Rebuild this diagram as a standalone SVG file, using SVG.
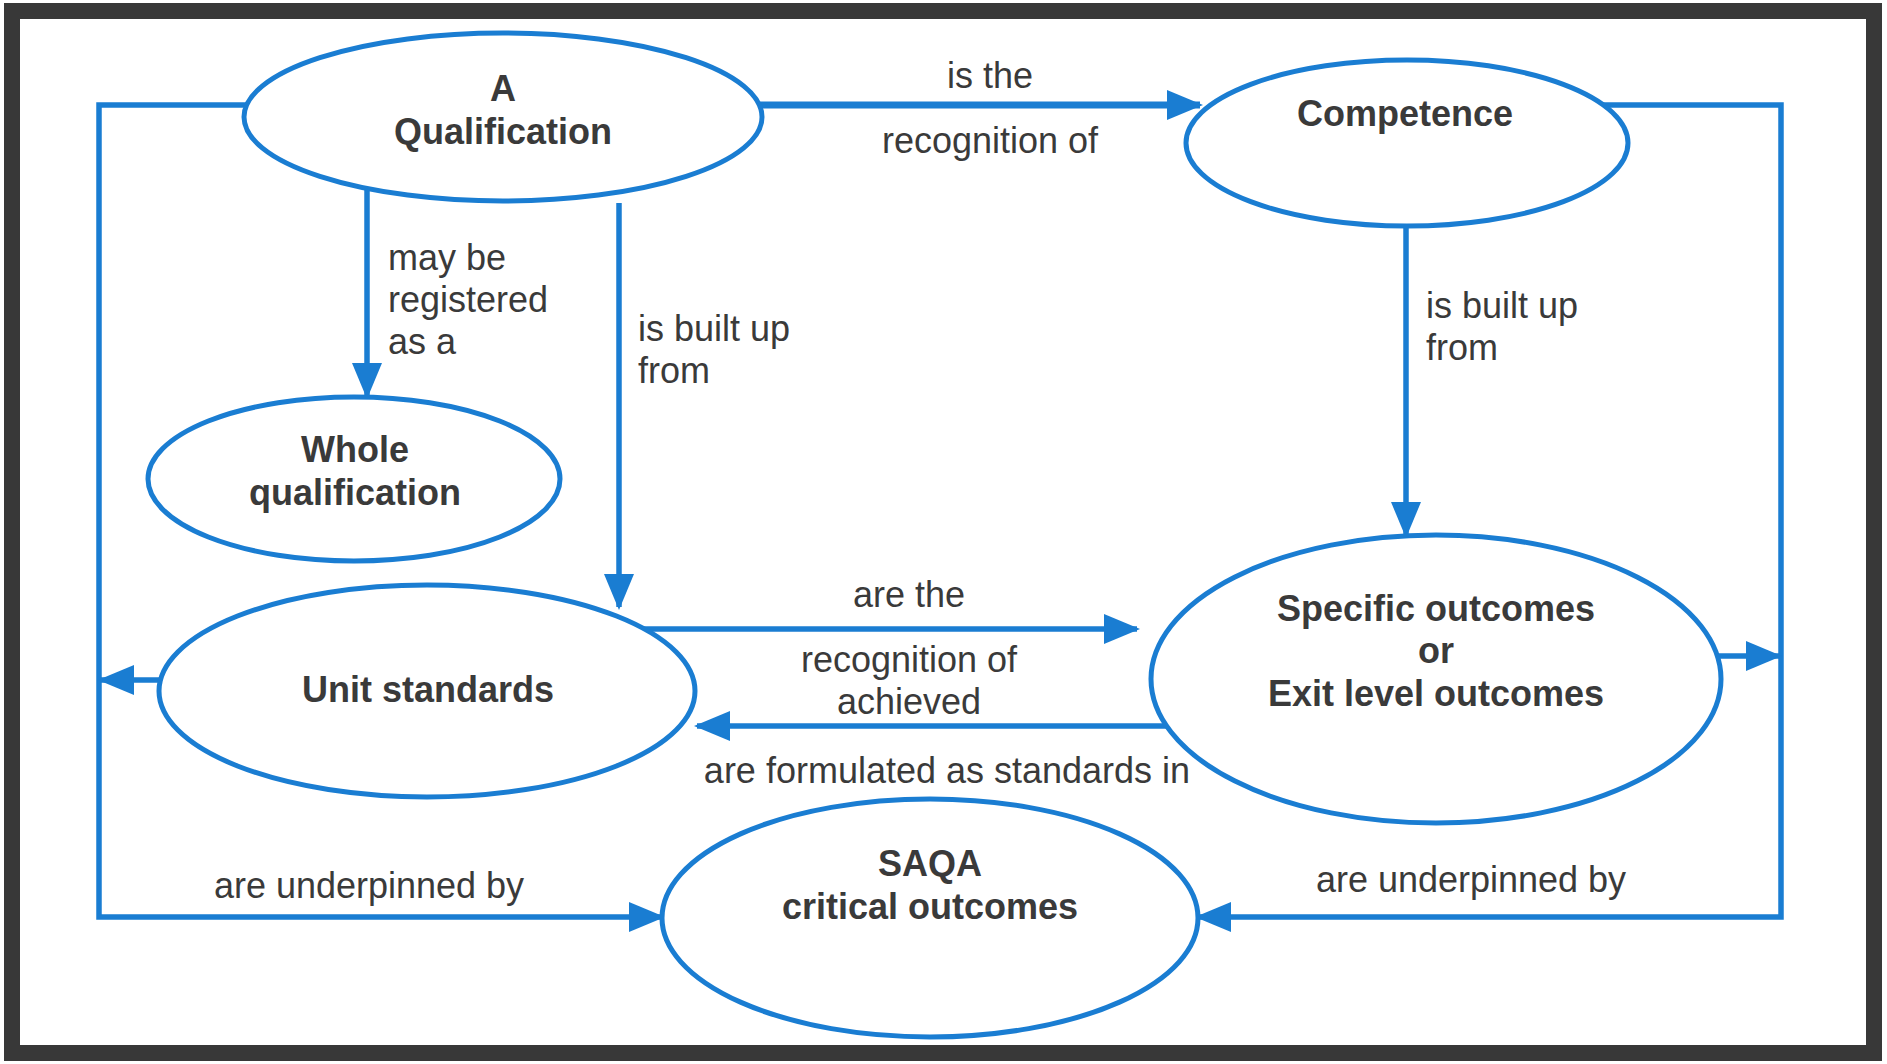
<svg xmlns="http://www.w3.org/2000/svg" width="1887" height="1064" viewBox="0 0 1887 1064">
<defs>
<style>
.node ellipse{fill:#fff;stroke:#1a7dd2;stroke-width:5}
.nt{font-family:"Liberation Sans",Arial,sans-serif;font-weight:bold;font-size:36px;fill:#3a3a3a;text-anchor:middle}
.lt{font-family:"Liberation Sans",Arial,sans-serif;font-size:36px;fill:#3a3a3a}
.c{text-anchor:middle}
.conn path{fill:none;stroke:#1a7dd2;stroke-width:5.5}
.arr{marker-end:url(#ah)}
</style>
<marker id="ah" viewBox="0 0 36 30" refX="33" refY="15" markerWidth="36" markerHeight="30" markerUnits="userSpaceOnUse" orient="auto">
<path d="M0,0 L36,15 L0,30 z" fill="#1a7dd2"/>
</marker>
</defs>
<rect x="0" y="0" width="1887" height="1064" fill="#fff"/>
<rect x="12" y="11" width="1862" height="1042" fill="none" stroke="#383838" stroke-width="16"/>

<g id="connectors" class="conn">
<path class="arr" d="M759,105 L1200,105" style="stroke-width:7"/>
<path class="arr" d="M247,105 L99,105 L99,917 L662,917"/>
<path class="arr" d="M1603,105 L1781,105 L1781,917 L1198,917"/>
<path class="arr" d="M367,189 L367,396"/>
<path class="arr" d="M619,203 L619,607"/>
<path class="arr" d="M1406,226 L1406,535"/>
<path class="arr" d="M644,629 L1137,629"/>
<path class="arr" d="M1167,726 L697,726"/>
<path class="arr" d="M161,680 L101,680"/>
<path class="arr" d="M1717,656 L1779,656"/>
</g>

<g id="node-qualification" class="node">
<ellipse cx="503" cy="117" rx="259" ry="84"/>
<text class="nt" x="503" y="101">A</text>
<text class="nt" x="503" y="144">Qualification</text>
</g>
<g id="node-competence" class="node">
<ellipse cx="1407" cy="143" rx="221" ry="83"/>
<text class="nt" x="1405" y="126">Competence</text>
</g>
<g id="node-whole" class="node">
<ellipse cx="354" cy="479" rx="206" ry="82"/>
<text class="nt" x="355" y="462">Whole</text>
<text class="nt" x="355" y="505">qualification</text>
</g>
<g id="node-unit" class="node">
<ellipse cx="427" cy="691" rx="268" ry="106"/>
<text class="nt" x="428" y="702">Unit standards</text>
</g>
<g id="node-specific" class="node">
<ellipse cx="1436" cy="679" rx="285" ry="144"/>
<text class="nt" x="1436" y="621">Specific outcomes</text>
<text class="nt" x="1436" y="663">or</text>
<text class="nt" x="1436" y="706">Exit level outcomes</text>
</g>
<g id="node-saqa" class="node">
<ellipse cx="930" cy="918" rx="268" ry="119"/>
<text class="nt" x="930" y="876">SAQA</text>
<text class="nt" x="930" y="919">critical outcomes</text>
</g>

<g id="labels">
<text class="lt c" x="990" y="88">is the</text>
<text class="lt c" x="990" y="153">recognition of</text>
<text class="lt" x="388" y="270">may be</text>
<text class="lt" x="388" y="312">registered</text>
<text class="lt" x="388" y="354">as a</text>
<text class="lt" x="638" y="341">is built up</text>
<text class="lt" x="638" y="383">from</text>
<text class="lt" x="1426" y="318">is built up</text>
<text class="lt" x="1426" y="360">from</text>
<text class="lt c" x="909" y="607">are the</text>
<text class="lt c" x="909" y="672">recognition of</text>
<text class="lt c" x="909" y="714">achieved</text>
<text class="lt c" x="947" y="783">are formulated as standards in</text>
<text class="lt c" x="369" y="898">are underpinned by</text>
<text class="lt c" x="1471" y="892">are underpinned by</text>
</g>
</svg>
